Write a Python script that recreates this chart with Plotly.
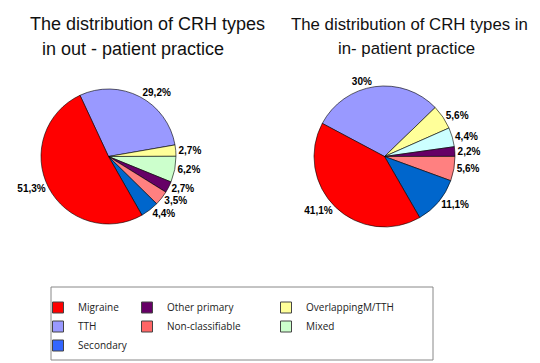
import plotly.graph_objects as go

categories = ["TTH", "OverlappingM/TTH", "Mixed", "Other primary",
              "Non-classifiable", "Secondary", "Migraine"]
outpatient_values = [29.2, 2.7, 6.2, 2.7, 3.5, 4.4, 51.3]
inpatient_values = [30.0, 5.6, 4.4, 2.2, 5.6, 11.1, 41.1]
outpatient_labels = ["29,2%", "2,7%", "6,2%", "2,7%", "3,5%", "4,4%", "51,3%"]
inpatient_labels = ["30%", "5,6%", "4,4%", "2,2%", "5,6%", "11,1%", "41,1%"]

out_colors = ["#9999FF", "#FFFF99", "#CCFFCC", "#660066", "#FF8080", "#0066CC", "#FF0000"]
in_colors = ["#9999FF", "#FFFF99", "#CCFFFF", "#660066", "#FF8080", "#0066CC", "#FF0000"]

legend_cols = [
    ["Migraine", "TTH", "Secondary"],
    ["Other primary", "Non-classifiable"],
    ["OverlappingM/TTH", "Mixed"],
]
legend_colors = {
    "Migraine": "#FF0000", "TTH": "#9999FF", "Secondary": "#3366FF",
    "Other primary": "#660066", "Non-classifiable": "#FF6666",
    "OverlappingM/TTH": "#FFFF99", "Mixed": "#CCFFCC",
}

W, H = 540, 363
def px(x): return x / W
def py(y): return 1 - y / H

fig = go.Figure()
pie_text = dict(family="Liberation Sans, Arial", size=10, color="black", weight="bold")

fig.add_trace(go.Pie(
    labels=categories, values=outpatient_values, text=outpatient_labels,
    textinfo="text", textposition="outside", sort=False, direction="clockwise",
    rotation=-25, marker=dict(colors=out_colors, line=dict(color="#000000", width=0.6)),
    textfont=pie_text,
    domain=dict(x=[px(33), px(168)], y=[py(216), py(81)]),
    showlegend=False, hoverinfo="label+text",
))
fig.add_trace(go.Pie(
    labels=categories, values=inpatient_values, text=inpatient_labels,
    textinfo="text", textposition="outside", sort=False, direction="clockwise",
    rotation=-62, marker=dict(colors=in_colors, line=dict(color="#000000", width=0.6)),
    textfont=pie_text,
    domain=dict(x=[px(306), px(447)], y=[py(219), py(78)]),
    showlegend=False, hoverinfo="label+text",
))

legend_names = ["legend", "legend2", "legend3"]
for col, lname in zip(legend_cols, legend_names):
    for name in col:
        fig.add_trace(go.Scatter(
            x=[None], y=[None], mode="markers", name=name, legend=lname,
            marker=dict(symbol="square", size=11, color=legend_colors[name],
                        line=dict(color="#444444", width=1)),
        ))

leg_common = dict(orientation="v", xanchor="left", yanchor="top",
                  bgcolor="rgba(0,0,0,0)", tracegroupgap=0,
                  font=dict(family="Open Sans, Liberation Sans", size=10, color="#222222"))
fig.update_layout(
    legend=dict(x=px(30), y=py(285), **leg_common),
    legend2=dict(x=px(119), y=py(285), **leg_common),
    legend3=dict(x=px(258), y=py(285), **leg_common),
)

titles = [
    ("The distribution of CRH types", 20, 16, 18),
    ("in out - patient practice", 32, 41, 18),
    ("The distribution of CRH types in", 281, 16, 16.8),
    ("in- patient practice", 328, 40, 16.8),
]
for t, x, y, fs in titles:
    fig.add_annotation(text=t, x=px(x), y=py(y), xref="paper", yref="paper",
                       showarrow=False, xanchor="left", yanchor="middle",
                       font=dict(family="Liberation Sans, Arial", size=fs, color="#111111"))

fig.add_shape(type="rect", xref="paper", yref="paper",
              x0=px(43), x1=px(425), y0=py(352), y1=py(279),
              line=dict(color="#888888", width=1))

fig.update_layout(
    width=W, height=H, margin=dict(l=0, r=0, t=0, b=0),
    paper_bgcolor="white", plot_bgcolor="white",
    xaxis=dict(visible=False), yaxis=dict(visible=False),
)

fig.write_html("out.html")
